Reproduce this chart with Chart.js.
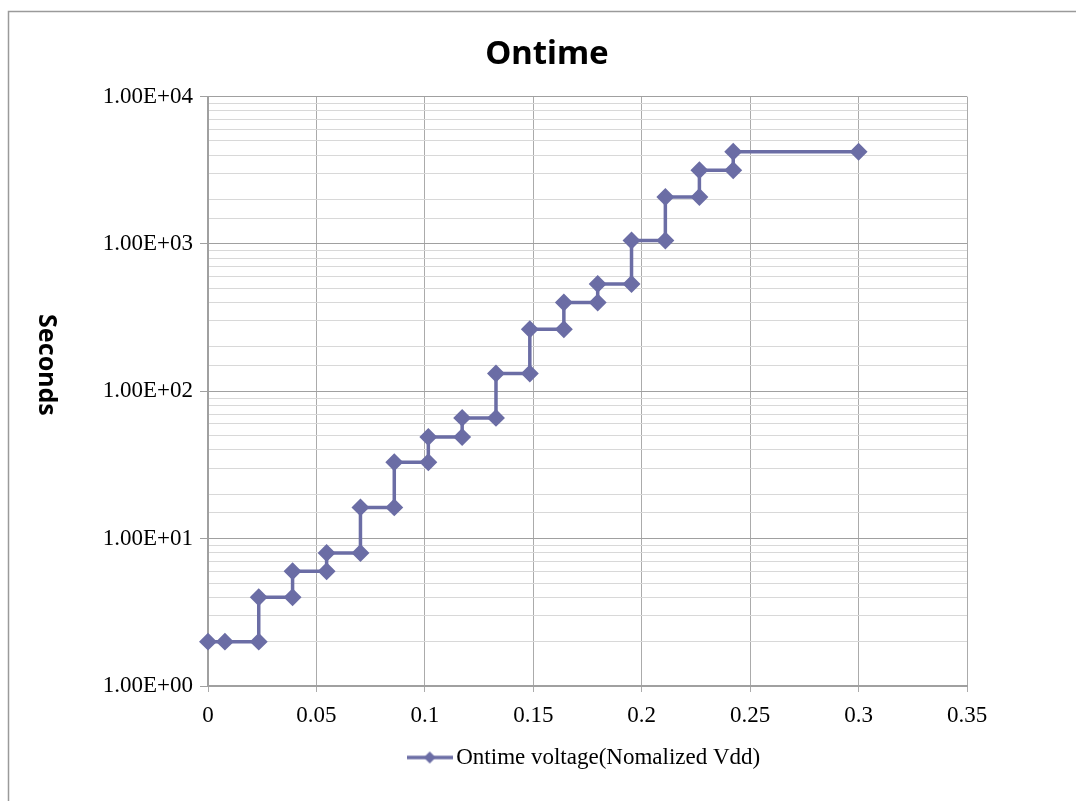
<!DOCTYPE html>
<html>
<head>
<meta charset="utf-8">
<title>Ontime</title>
<script src="https://cdn.jsdelivr.net/npm/chart.js@4/dist/chart.umd.min.js"></script>
<style>
  html, body { margin: 0; padding: 0; background: #fff; }
  canvas { display: block; }
</style>
</head>
<body>
<canvas id="ontimeChart" width="1076" height="801"></canvas>
<script>
// step points (x = normalized Vdd, y = seconds)
const voltage = [0, 0.0078, 0.0234, 0.0234, 0.039, 0.039, 0.0547, 0.0547, 0.0703, 0.0703,
  0.0859, 0.0859, 0.1016, 0.1016, 0.1172, 0.1172, 0.1328, 0.1328, 0.1484, 0.1484,
  0.1641, 0.1641, 0.1797, 0.1797, 0.1953, 0.1953, 0.2109, 0.2109, 0.2266, 0.2266,
  0.2422, 0.2422, 0.3];
const seconds = [2, 2, 2, 4, 4, 6, 6, 8, 8, 16.3, 16.3, 33, 33, 49, 49, 66, 66,
  132, 132, 264, 264, 400, 400, 535, 535, 1055, 1055, 2085, 2085, 3160, 3160, 4220, 4220];
const xTicks = [0, 0.05, 0.1, 0.15, 0.2, 0.25, 0.3, 0.35];
const yDecades = [1, 10, 100, 1000, 10000];

const seriesName = 'Ontime voltage(Nomalized Vdd)';
const lineColor = '#6b6da5';
const serif = '"Liberation Serif", "DejaVu Serif", serif';

function isDecade(v) {
  return yDecades.indexOf(v) !== -1;
}

function sciLabel(v) {
  const e = Math.round(Math.log10(v));
  return '1.00E+' + (e < 10 ? '0' + e : e);
}

// legend marker: a short line with a diamond in the middle
const legendMark = document.createElement('canvas');
legendMark.width = 46;
legendMark.height = 14;
(function () {
  const c = legendMark.getContext('2d');
  c.strokeStyle = lineColor;
  c.lineWidth = 3.5;
  c.beginPath();
  c.moveTo(0, 7);
  c.lineTo(46, 7);
  c.stroke();
  c.fillStyle = lineColor;
  c.beginPath();
  c.moveTo(23, 1);
  c.lineTo(29, 7);
  c.lineTo(23, 13);
  c.lineTo(17, 7);
  c.closePath();
  c.fill();
})();

// outer frame + rotated y title
const extras = {
  id: 'extras',
  afterDraw(chart) {
    const ctx = chart.ctx;
    ctx.save();
    ctx.strokeStyle = '#9a9a9a';
    ctx.lineWidth = 1.5;
    ctx.beginPath();
    ctx.moveTo(8.5, 801);
    ctx.lineTo(8.5, 11.5);
    ctx.lineTo(1076, 11.5);
    ctx.stroke();

    ctx.translate(46, 365);
    ctx.rotate(Math.PI / 2);
    ctx.fillStyle = '#000';
    ctx.font = 'bold 25px "Noto Sans", sans-serif';
    ctx.textAlign = 'center';
    ctx.textBaseline = 'middle';
    ctx.fillText('Seconds', 0, 0);
    ctx.restore();
  }
};

new Chart(document.getElementById('ontimeChart'), {
  type: 'scatter',
  data: {
    datasets: [{
      label: seriesName,
      data: voltage.map((x, i) => ({ x: x, y: seconds[i] })),
      showLine: true,
      clip: false,
      borderColor: lineColor,
      backgroundColor: lineColor,
      borderWidth: 3.5,
      pointStyle: 'rectRot',
      pointRadius: 6.5,
      pointHoverRadius: 6.5
    }]
  },
  options: {
    responsive: false,
    animation: false,
    devicePixelRatio: 1,
    layout: { padding: { left: 18, right: 0, top: 0, bottom: 22 } },
    plugins: {
      title: {
        display: true,
        text: 'Ontime',
        color: '#000',
        font: { family: '"Noto Sans", sans-serif', size: 33, weight: 'bold' },
        padding: { top: 35, bottom: 22 }
      },
      legend: {
        position: 'bottom',
        fullSize: false,
        labels: {
          color: '#000',
          font: { family: serif, size: 23 },
          usePointStyle: true,
          pointStyleWidth: 30,
          generateLabels: (chart) => [{
            text: seriesName,
            pointStyle: legendMark,
            fillStyle: lineColor,
            strokeStyle: lineColor,
            datasetIndex: 0
          }]
        },
        padding: 8
      },
      tooltip: { enabled: false }
    },
    scales: {
      x: {
        type: 'linear',
        min: 0,
        max: 0.35,
        afterBuildTicks: (scale) => { scale.ticks = xTicks.map(v => ({ value: v })); },
        afterFit: (scale) => { scale.height = 50; },
        ticks: {
          color: '#000',
          font: { family: serif, size: 23 },
          padding: 10,
          maxRotation: 0,
          callback: (v) => String(v)
        },
        grid: { color: '#ababab', tickColor: '#ababab', tickLength: 6, lineWidth: 1 },
        border: { display: true, color: '#a0a0a0', width: 2 }
      },
      y: {
        type: 'logarithmic',
        min: 1,
        max: 10000,
        afterFit: (scale) => { scale.width = 190; },
        ticks: {
          color: '#000',
          font: { family: serif, size: 23 },
          padding: 7,
          autoSkip: false,
          callback: (v) => isDecade(v) ? sciLabel(v) : ''
        },
        grid: {
          color: (c) => (c.tick && isDecade(c.tick.value)) ? '#a0a0a0' : '#d8d8d8',
          tickColor: (c) => (c.tick && isDecade(c.tick.value)) ? '#a0a0a0' : 'rgba(0,0,0,0)',
          tickLength: 8,
          lineWidth: 1
        },
        border: { display: true, color: '#a0a0a0', width: 2 }
      },
      // empty box on the right keeps the plot narrower than the title row
      spacer: {
        type: 'linear',
        position: 'right',
        afterFit: (scale) => { scale.width = 109; },
        ticks: { display: false },
        grid: { display: false, drawTicks: false },
        border: { display: false }
      }
    }
  },
  plugins: [extras]
});
</script>
</body>
</html>
